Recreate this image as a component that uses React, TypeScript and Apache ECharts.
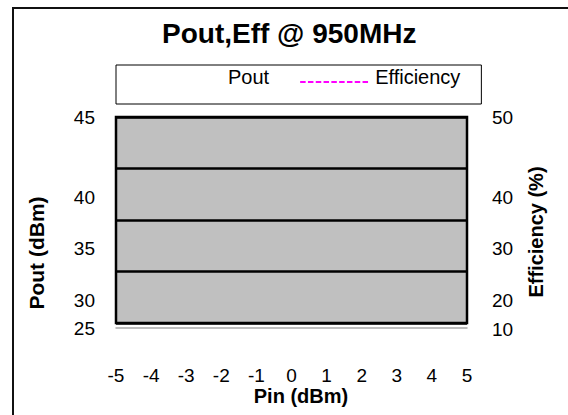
import React, { useEffect, useRef } from 'react';
import * as echarts from 'echarts';

const TITLE = 'Pout,Eff @ 950MHz';
const X_NAME = 'Pin (dBm)';
const Y_LEFT_NAME = 'Pout (dBm)';
const Y_RIGHT_NAME = 'Efficiency (%)';
const SERIES_NAMES = ['Pout', 'Efficiency'];

// axis ranges [min, max, interval]
const pinRange = [-5, 5, 1];
const poutRange = [25, 45, 5];
const effRange = [10, 50, 10];

// no data points are drawn in the reference plot area
const poutValues: [number, number][] = [];
const effValues: [number, number][] = [];

const FONT = "'Liberation Sans', Arial, Helvetica, sans-serif";

export default function App() {
  const ref = useRef<HTMLDivElement>(null);
  useEffect(() => {
    if (!ref.current) return;
    const chart = echarts.init(ref.current, undefined, { renderer: 'svg' });
    chart.setOption({
      animation: false,
      backgroundColor: '#ffffff',
      textStyle: { fontFamily: FONT, color: '#000' },
      title: {
        text: TITLE,
        left: 162,
        top: 19,
        padding: 0,
        textStyle: { fontFamily: FONT, fontSize: 28, fontWeight: 'bold', color: '#000' },
      },
      legend: {
        data: SERIES_NAMES,
        left: 116,
        top: 65,
        orient: 'horizontal',
        padding: [2, 21, 17, 36],
        itemWidth: 70,
        itemHeight: 10,
        itemGap: 30,
        borderColor: '#000',
        borderWidth: 1,
        backgroundColor: '#fff',
        itemStyle: { opacity: 0 },
        formatter: (name: string) => `{t|${name}}`,
        textStyle: {
          fontFamily: FONT,
          fontSize: 20,
          color: '#000',
          rich: { t: { fontFamily: FONT, fontSize: 20, color: '#000', padding: [0, 0, 10, 0] } },
        },
      },
      graphic: [
        {
          type: 'rect',
          silent: true,
          z: -10,
          shape: { x: 13, y: 8, width: 620, height: 460 },
          style: { fill: 'none', stroke: '#111', lineWidth: 2 },
        },
      ],
      grid: {
        left: 116,
        top: 117,
        width: 351,
        height: 206,
        show: true,
        backgroundColor: '#c0c0c0',
        borderColor: '#000',
        borderWidth: 2.5,
        containLabel: false,
        outerBoundsMode: 'none',
      },
      xAxis: {
        type: 'value',
        min: pinRange[0],
        max: pinRange[1],
        interval: pinRange[2],
        offset: 5,
        name: X_NAME,
        nameLocation: 'middle',
        nameGap: 51,
        nameTextStyle: { fontFamily: FONT, fontSize: 20, fontWeight: 'bold', color: '#000', padding: [0, 0, 0, 19] },
        axisLine: { show: true, lineStyle: { color: '#a8a8a8', width: 1.5 } },
        axisTick: { show: false },
        splitLine: { show: false },
        axisLabel: { fontFamily: FONT, fontSize: 19, color: '#000', margin: 38 },
      },
      yAxis: [
        {
          type: 'value',
          position: 'left',
          min: poutRange[0],
          max: poutRange[1],
          interval: poutRange[2],
          name: Y_LEFT_NAME,
          nameLocation: 'middle',
          nameGap: 69,
          nameTextStyle: { fontFamily: FONT, fontSize: 21, fontWeight: 'bold', color: '#000', padding: [0, 66, 0, 0] },
          axisLine: { show: false },
          axisTick: { show: false },
          splitLine: { show: true, lineStyle: { color: '#000', width: 2.5 } },
          axisLabel: {
            fontFamily: FONT,
            fontSize: 19,
            color: '#000',
            margin: 21,
            formatter: (v: number) =>
              v === poutRange[1] ? `${v}` : v === poutRange[0] ? `{b|${v}}` : `{m|${v}}`,
            rich: {
              m: { fontFamily: FONT, fontSize: 19, color: '#000', padding: [57, 0, 0, 0] },
              b: { fontFamily: FONT, fontSize: 19, color: '#000', padding: [10, 0, 0, 0] },
            },
          },
        },
        {
          type: 'value',
          position: 'right',
          min: effRange[0],
          max: effRange[1],
          interval: effRange[2],
          name: Y_RIGHT_NAME,
          nameLocation: 'middle',
          nameGap: 59,
          nameTextStyle: { fontFamily: FONT, fontSize: 20, fontWeight: 'bold', color: '#000', padding: [0, 24, 0, 0] },
          axisLine: { show: false },
          axisTick: { show: false },
          splitLine: { show: false },
          axisLabel: {
            fontFamily: FONT,
            fontSize: 19,
            color: '#000',
            margin: 25,
            formatter: (v: number) =>
              v === effRange[1] ? `${v}` : v === effRange[0] ? `{b|${v}}` : `{m|${v}}`,
            rich: {
              m: { fontFamily: FONT, fontSize: 19, color: '#000', padding: [57, 0, 0, 0] },
              b: { fontFamily: FONT, fontSize: 19, color: '#000', padding: [12, 0, 0, 0] },
            },
          },
        },
      ],
      series: [
        {
          name: SERIES_NAMES[0],
          type: 'line',
          yAxisIndex: 0,
          data: poutValues,
          symbol: 'none',
          lineStyle: { color: '#ffffff', width: 2 },
          itemStyle: { color: '#ffffff' },
        },
        {
          name: SERIES_NAMES[1],
          type: 'line',
          yAxisIndex: 1,
          data: effValues,
          symbol: 'none',
          lineStyle: { color: '#ff00ff', width: 2, type: [5.5, 2.3] },
          itemStyle: { color: '#ff00ff' },
        },
      ],
    });
    return () => chart.dispose();
  }, []);
  return (
    <div
      ref={ref}
      style={{ position: 'fixed', left: 0, top: 0, width: 568, height: 415, background: '#fff' }}
    />
  );
}
